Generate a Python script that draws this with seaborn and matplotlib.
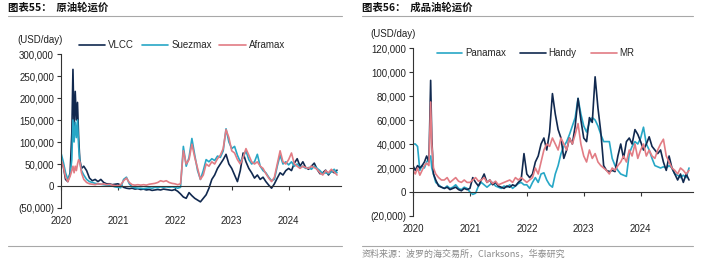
import numpy as np
import pandas as pd
import matplotlib
matplotlib.use("Agg")
import matplotlib.pyplot as plt
import seaborn as sns
from matplotlib.ticker import FuncFormatter
from matplotlib.lines import Line2D

sns.set_style("white")
plt.rcParams["font.family"] = ["Liberation Sans", "Noto Sans CJK SC", "DejaVu Sans"]

# ---------------- data (values in thousand USD/day) ----------------
years = [2020, 2021, 2022, 2023, 2024]
year_labels = ["2020", "2021", "2022", "2023", "2024"]

# time grid (decimal years): dense around the spring-2020 spike, then ~every 0.05 yr
t_early_crude = [2020.00, 2020.04, 2020.08, 2020.12, 2020.16, 2020.19, 2020.21, 2020.23, 2020.25,
                 2020.27, 2020.29, 2020.31, 2020.33, 2020.36, 2020.40, 2020.45, 2020.50]
t_early_prod = [2020.00, 2020.04, 2020.08, 2020.12, 2020.16, 2020.20, 2020.24, 2020.28, 2020.31,
                2020.33, 2020.36, 2020.40, 2020.45, 2020.50]
t_regular = list(np.round(2020.55 + 0.05 * np.arange(87), 2))  # 2020.55 ... 2024.85

crude_names = ["VLCC", "Suezmax", "Aframax"]
vlcc = ([55, 45, 15, 10, 30, 120, 265, 130, 215, 150, 190, 110, 60, 40, 45, 35, 18]
        + [12, 15, 10, 15, 8, 5, 5, 3, 4]
        + [5, 2, -3, -5, -6, -5, -7, -6, -8, -7, -9, -8, -10, -9, -8, -9, -7, -8, -9, -10]
        + [-8, -12, -18, -25, -28, -15, -22, -28, -32, -36, -28, -20, -5, 15, 25, 40, 50, 60, 72, 50]
        + [40, 25, 10, 35, 75, 55, 40, 30, 18, 25, 15, 20, 10, 2, -5, 5, 18, 30, 25, 35]
        + [40, 35, 52, 62, 45, 55, 42, 38, 45, 52, 38, 28, 30, 36, 25, 35, 30, 36])
suezmax = ([75, 55, 30, 15, 25, 60, 150, 100, 145, 110, 150, 90, 55, 35, 25, 15, 10]
           + [8, 6, 5, 4, 3, 2, 1, 0, -2]
           + [-3, -4, 15, 20, 5, -2, -4, -5, -5, -6, -5, -4, -5, -3, -4, -2, -3, -2, -3, -2]
           + [-3, -5, -3, 90, 45, 65, 108, 70, 35, 15, 35, 60, 55, 62, 58, 68, 65, 80, 130, 100]
           + [85, 90, 70, 55, 65, 80, 60, 50, 55, 72, 45, 35, 30, 20, 12, 15, 45, 70, 50, 55]
           + [48, 55, 45, 50, 42, 45, 40, 42, 38, 45, 40, 35, 28, 30, 28, 32, 38, 30])
aframax = ([60, 45, 20, 10, 22, 35, 45, 30, 45, 35, 50, 60, 55, 30, 15, 8, 5]
           + [4, 3, 5, 4, 5, 3, 4, 2, 1]
           + [0, 3, 12, 18, 8, 3, 2, 3, 2, 3, 2, 4, 5, 6, 8, 12, 10, 12, 8, 6]
           + [5, 3, 5, 80, 50, 60, 95, 65, 40, 15, 25, 50, 45, 55, 50, 62, 70, 85, 128, 110]
           + [80, 75, 60, 50, 65, 85, 70, 55, 50, 55, 45, 40, 28, 18, 10, 20, 50, 80, 55, 50]
           + [60, 75, 50, 45, 40, 45, 42, 40, 45, 42, 38, 30, 25, 35, 30, 38, 32, 25])

prod_names = ["Panamax", "Handy", "MR"]
panamax = ([40, 40, 38, 18, 22, 20, 25, 28, 30, 20, 15, 8, 6, 4]
           + [3, 5, 3, 4, 6, 3, 2, 4, 3]
           + [0, -2, -1, 5, 8, 6, 4, 6, 8, 5, 4, 3, 5, 4, 6, 3, 5, 7, 8, 6]
           + [6, 3, 8, 12, 8, 15, 16, 10, 6, 4, 15, 22, 32, 38, 42, 48, 55, 62, 78, 65]
           + [55, 50, 58, 62, 60, 55, 48, 42, 42, 42, 28, 22, 18, 15, 14, 13, 32, 38, 42, 40]
           + [45, 54, 40, 35, 28, 22, 21, 20, 21, 20, 22, 20, 15, 14, 12, 14, 12, 20])
handy = ([22, 18, 22, 20, 22, 25, 30, 25, 93, 45, 15, 10, 5, 4]
         + [3, 4, 2, 3, 4, 2, 1, 3, 2]
         + [3, 12, 8, 5, 10, 15, 8, 10, 6, 8, 5, 4, 3, 5, 4, 6, 5, 8, 10, 32]
         + [15, 12, 15, 25, 30, 40, 45, 35, 50, 82, 65, 52, 45, 28, 35, 45, 40, 55, 78, 60]
         + [45, 42, 62, 58, 96, 70, 50, 22, 18, 17, 18, 17, 30, 40, 28, 42, 45, 40, 52, 48]
         + [42, 35, 40, 46, 38, 35, 32, 35, 25, 18, 30, 20, 15, 10, 15, 8, 15, 10])
mr = ([18, 15, 20, 14, 18, 22, 24, 22, 75, 40, 20, 15, 12, 10]
      + [10, 12, 8, 10, 12, 9, 8, 10, 8]
      + [8, 10, 12, 9, 10, 12, 8, 10, 7, 9, 6, 7, 8, 9, 10, 8, 12, 10, 12, 10]
      + [8, 10, 12, 20, 15, 25, 35, 40, 38, 45, 40, 35, 45, 40, 35, 45, 40, 48, 57, 40]
      + [30, 25, 35, 28, 32, 25, 22, 20, 18, 15, 20, 18, 22, 25, 30, 25, 35, 30, 40, 28]
      + [35, 40, 30, 35, 30, 28, 35, 40, 44, 30, 25, 20, 18, 15, 20, 18, 15, 18])

crude_colors = ["#11294f", "#27a7c6", "#e27c84"]
prod_colors = ["#27a7c6", "#11294f", "#e27c84"]


def build(times, names, series):
    frames = []
    for n, s in zip(names, series):
        assert len(s) == len(times), (n, len(s), len(times))
        frames.append(pd.DataFrame({"t": times, "usd": np.array(s, dtype=float) * 1000, "series": n}))
    return pd.concat(frames, ignore_index=True)


df_crude = build(t_early_crude + t_regular, crude_names, [vlcc, suezmax, aframax])
df_prod = build(t_early_prod + t_regular, prod_names, [panamax, handy, mr])

# ---------------- figure ----------------
W, H = 720, 261
fig = plt.figure(figsize=(W / 100, H / 100), dpi=100)


def add_ax(x0, y_top, x1, y_bot):
    return fig.add_axes([x0 / W, 1 - y_bot / H, (x1 - x0) / W, (y_bot - y_top) / H])


def fmt(v, pos=None):
    if v < 0:
        return f"({abs(v):,.0f})"
    return f"{v:,.0f}"


axL = add_ax(61, 54, 341, 208)
axR = add_ax(413, 48, 693, 216)

sns.lineplot(data=df_crude, x="t", y="usd", hue="series", hue_order=crude_names,
             palette=crude_colors, ax=axL, linewidth=1.2, estimator=None, sort=False)
sns.lineplot(data=df_prod, x="t", y="usd", hue="series", hue_order=prod_names,
             palette=prod_colors, ax=axR, linewidth=1.2, estimator=None, sort=False)


def style(ax, ylim, yticks):
    ax.set_xlim(2020, 2024.92)
    ax.set_ylim(*ylim)
    ax.set_yticks(yticks)
    ax.yaxis.set_major_formatter(FuncFormatter(fmt))
    ax.set_xlabel("")
    ax.set_ylabel("")
    for s in ["top", "right"]:
        ax.spines[s].set_visible(False)
    ax.spines["bottom"].set_position(("data", 0))
    for s in ["bottom", "left"]:
        ax.spines[s].set_color("#333333")
        ax.spines[s].set_linewidth(0.8)
    ax.set_xticks(years)
    ax.tick_params(axis="x", bottom=True, labelbottom=False, direction="out",
                   length=3, width=0.8, color="#333333")
    ax.tick_params(axis="y", left=True, direction="out", length=3, width=0.8,
                   color="#333333", labelsize=7, pad=2, labelcolor="#222222")
    sec = ax.secondary_xaxis("bottom")
    sec.set_xticks(years, labels=year_labels)
    sec.tick_params(length=0, labelsize=7, pad=6, labelcolor="#222222")
    sec.spines["bottom"].set_visible(False)


style(axL, (-50000, 300000), [-50000, 0, 50000, 100000, 150000, 200000, 250000, 300000])
style(axR, (-20000, 120000), [-20000, 0, 20000, 40000, 60000, 80000, 100000, 120000])

hL, lL = axL.get_legend_handles_labels()
axL.legend(hL, lL, loc="center left", bbox_to_anchor=(0.065, 1.058), ncol=3, frameon=False,
           fontsize=7, handlelength=2.7, handletextpad=0.3, columnspacing=0.8,
           borderaxespad=0, borderpad=0)
hR, lR = axR.get_legend_handles_labels()
axR.legend(hR, lR, loc="center left", bbox_to_anchor=(0.085, 0.97), ncol=3, frameon=False,
           fontsize=7, handlelength=2.6, handletextpad=0.3, columnspacing=1.5,
           borderaxespad=0, borderpad=0)

# unit labels
fig.text(17 / W, 1 - 40 / H, "(USD/day)", fontsize=7, va="center", ha="left", color="#222222")
fig.text(370 / W, 1 - 34 / H, "(USD/day)", fontsize=7, va="center", ha="left", color="#222222")

# titles
cjk = ["Noto Sans CJK SC", "DejaVu Sans"]
fig.text(8 / W, 1 - 8 / H, "图表55：  原油轮运价", fontsize=7.5, fontweight="bold",
         family=cjk, va="center", ha="left", color="#111111")
fig.text(362 / W, 1 - 8 / H, "图表56：  成品油轮运价", fontsize=7.5, fontweight="bold",
         family=cjk, va="center", ha="left", color="#111111")

# rules
for (x0, x1) in [(8, 342), (362, 693)]:
    for y in (15.5, 246):
        fig.add_artist(Line2D([x0 / W, x1 / W], [1 - y / H, 1 - y / H],
                              color="#a8a8a8", linewidth=0.8))

# source
fig.text(362 / W, 1 - 254 / H, "资料来源：波罗的海交易所，Clarksons，华泰研究", fontsize=6.5,
         color="#8a8a8a", family=cjk, va="center", ha="left")

fig.savefig("out.png", dpi=100)
